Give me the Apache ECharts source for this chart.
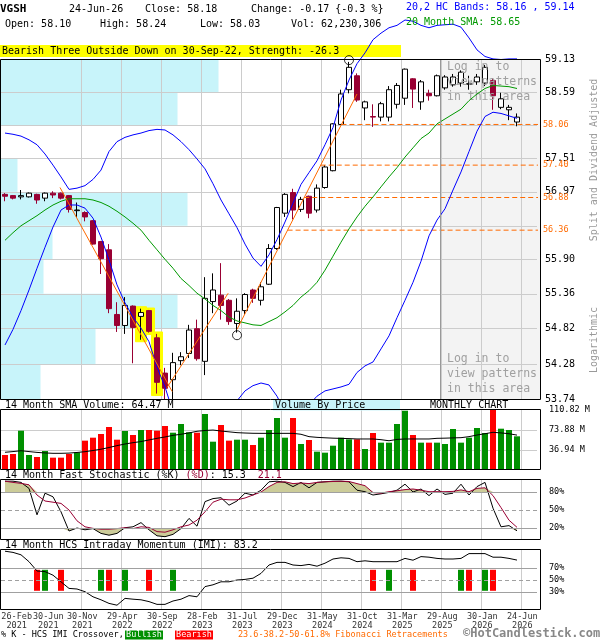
<!DOCTYPE html>
<html><head><meta charset="utf-8">
<script src="https://cdn.jsdelivr.net/npm/echarts@6/dist/echarts.min.js"></script>
<style>html,body{margin:0;padding:0;background:#fff}#c{width:600px;height:640px}</style>
</head><body><div id="c"></div>
<script>
// ---------------- DATA ----------------
const ticker = 'VGSH';
const lastDate = '24-Jun-26';
const lastChange = '-0.17';
const lastChangePct = '-0.3';
const lastVolume = '62,230,306';
const volSmaLast = '64.47';

const months = ['2021-02','2021-03','2021-04','2021-05','2021-06','2021-07','2021-08','2021-09','2021-10','2021-11','2021-12',
'2022-01','2022-02','2022-03','2022-04','2022-05','2022-06','2022-07','2022-08','2022-09','2022-10','2022-11','2022-12',
'2023-01','2023-02','2023-03','2023-04','2023-05','2023-06','2023-07','2023-08','2023-09','2023-10','2023-11','2023-12',
'2024-01','2024-02','2024-03','2024-04','2024-05','2024-06','2024-07','2024-08','2024-09','2024-10','2024-11','2024-12',
'2025-01','2025-02','2025-03','2025-04','2025-05','2025-06','2025-07','2025-08','2025-09','2025-10','2025-11','2025-12',
'2026-01','2026-02','2026-03','2026-04','2026-05','2026-06'];

const open = [56.93,56.91,56.89,56.89,56.93,56.87,56.95,56.95,56.91,56.67,
56.64,56.51,56.18,56.05,55.04,54.87,55.17,55.01,55.10,54.68,
54.14,54.04,54.33,54.44,54.82,54.32,55.24,55.34,55.26,54.90,
55.10,55.42,55.26,55.51,56.07,56.63,56.96,56.69,56.90,56.68,
57.04,57.31,58.06,58.63,58.86,58.33,58.19,58.18,58.18,58.39,
58.49,58.81,58.43,58.57,58.53,58.66,58.71,58.74,58.72,58.76,
58.74,58.78,58.34,58.30,58.10];
const high = [56.95,56.92,57.00,56.96,56.94,56.96,56.98,56.96,56.92,56.80,
56.66,56.52,56.19,56.14,55.23,55.31,55.18,55.13,55.11,54.74,
54.22,54.45,54.46,54.88,54.96,55.62,55.68,55.84,55.28,55.29,
55.37,55.44,55.54,56.14,56.73,56.95,57.02,56.89,56.91,57.09,
57.40,58.08,58.63,59.09,58.90,58.45,58.39,58.43,58.69,58.74,
58.98,58.82,58.79,58.63,58.88,58.87,58.89,58.95,58.86,58.89,
59.04,58.82,58.58,58.38,58.24];
const low = [56.82,56.85,56.85,56.88,56.78,56.82,56.87,56.85,56.64,56.57,
56.50,56.13,55.67,55.06,54.77,54.74,54.29,54.65,54.76,53.83,
53.74,53.74,54.26,54.37,54.33,54.11,55.06,54.96,54.88,54.76,
55.04,55.22,55.18,55.50,56.05,56.57,56.53,56.65,56.55,56.64,
57.02,57.30,58.05,58.57,58.43,58.13,58.02,58.11,58.11,58.32,
58.38,58.33,58.30,58.45,58.52,58.63,58.68,58.68,58.63,58.71,
58.69,58.30,58.31,58.13,58.03];
const close = [56.90,56.87,56.91,56.95,56.84,56.95,56.92,56.87,56.69,56.68,
56.57,56.14,55.91,55.13,54.87,55.18,54.84,55.07,54.78,54.00,
53.91,54.30,54.39,54.80,54.36,55.29,55.42,55.18,54.93,55.09,
55.35,55.29,55.47,56.07,56.72,56.93,56.68,56.85,56.63,57.03,
57.37,58.07,58.56,59.00,58.46,58.43,58.18,58.40,58.63,58.70,
58.97,58.64,58.76,58.53,58.86,58.84,58.84,58.92,58.73,58.84,
59.00,58.53,58.48,58.34,58.18];

const sma20 = [56.20,56.32,56.43,56.51,56.59,56.68,56.76,56.82,56.86,56.86,
56.86,56.84,56.80,56.74,56.66,56.57,56.47,56.36,56.20,56.05,
55.90,55.76,55.60,55.49,55.37,55.28,55.18,55.10,55.00,54.94,
54.91,54.88,54.87,54.93,54.99,55.08,55.18,55.31,55.41,55.54,
55.73,55.95,56.17,56.38,56.57,56.74,56.89,57.05,57.21,57.36,
57.53,57.68,57.83,57.92,58.07,58.15,58.23,58.31,58.45,58.56,
58.65,58.70,58.69,58.68,58.65];
const bbUpper = [57.92,57.90,57.87,57.81,57.73,57.58,57.40,57.21,57.01,57.03,
57.07,57.17,57.32,57.62,57.78,57.85,57.89,57.92,57.96,57.98,
57.97,57.89,57.78,57.65,57.50,57.34,57.10,56.84,56.62,56.40,
56.14,55.92,55.79,55.97,56.21,56.49,56.79,57.09,57.28,57.47,
57.73,58.01,58.46,58.79,59.06,59.24,59.46,59.57,59.66,59.70,
59.79,59.77,59.70,59.66,59.70,59.71,59.72,59.67,59.49,59.29,
59.18,59.14,59.13,59.14,59.14];
const bbLower = [54.57,54.81,55.10,55.42,55.76,56.09,56.41,56.68,56.76,56.76,
56.71,56.55,56.25,55.89,55.50,55.22,55.00,54.83,54.62,54.23,
53.93,53.55,53.23,53.07,53.00,53.07,53.31,53.47,53.63,53.72,
53.87,53.95,53.99,53.96,53.79,53.55,53.47,53.55,53.66,53.79,
53.87,53.90,53.93,53.97,54.15,54.25,54.31,54.51,54.71,54.99,
55.26,55.54,55.87,56.27,56.52,56.70,57.00,57.29,57.62,57.95,
58.19,58.26,58.24,58.20,58.16];

const volume = [27.7,29.6,72.6,27.7,24.0,35.1,22.8,22.8,29.6,32.6,
54.2,59.7,66.5,79.4,56.0,72.0,64.6,73.9,73.9,72.6,
81.3,68.9,85.0,69.6,68.9,103.4,52.3,83.1,54.2,56.0,
56.0,46.2,59.7,73.9,96.0,59.7,96.0,48.0,55.4,33.9,
32.0,44.9,59.7,56.6,56.6,38.8,68.3,50.5,50.5,85.0,
109.5,64.6,50.5,50.5,50.5,48.0,75.7,50.5,59.7,77.6,
68.3,110.8,76.3,73.9,62.2];
const volSma = [32.7,34.0,35.6,34.0,32.5,31.5,30.8,30.8,31.2,32.4,
33.8,36.0,38.4,41.5,45.0,48.0,50.5,52.5,55.5,58.5,
61.0,64.0,66.0,68.5,71.5,73.0,73.8,72.0,70.5,69.0,
68.3,67.8,67.7,67.7,67.7,67.7,67.7,66.0,61.6,60.3,
59.5,58.8,58.4,58.0,57.3,57.3,57.3,56.0,54.0,56.5,
57.3,57.3,57.3,57.3,58.5,58.8,59.3,59.7,61.6,64.6,
67.0,69.6,68.5,67.0,64.47];

const stochK = [98,98,96,86,42,78,72,47,15,20,
17,19,11,8,11,20.5,22,29,17,7,
5.5,9.4,19,36,23,64,69,70.5,58,65,
78,75,83,97,98,96,89,96,87,96,
97,98,98,97,83,80.5,75,77,79.4,83,
93,80,85,74,85,76,78,93,75,89,
96,53,22,24,15.3];
const stochD = [98,96,94.4,92,75,65,63,61,50,32,
22,19.4,18,18,19,20.5,19,22,21,14,
13,17,22,25,33,47,63,68,67,67,
70,75,80,89,96,97,94,95,94,96,
97,97.5,98,97.5,94,90.5,79,78,80.5,82,
84,85,83,80.5,80.5,80.5,81,83.5,80.5,86,
87,74,54,33,21.1];
const imi = [98,96,92,80.5,65,64,58,47,36,35,
30.5,22,17,11,8,19.4,18,17,14,9.4,
9.4,15,18,24,22,39,42,47,47,50,
51,53,61,75,79.4,79.4,75,74,76,73,
78,85,87,86,80.5,82,80.5,80.5,80.5,80.5,
86,83,89,88,86,85,85,86,94,94,
94,88,88,86,83.2];
const imiBullish = [5,12,15,21,48,57,60];
const imiBearish = [4,7,13,18,46,51,58,61];
const signalBand = [32, 67];

const patternIdx = [17,18,19];
const pivots = [[29,54.72],[43,59.12]];
const trendSegs = [
  [[6.875,57.04],[20.9,53.86]],
  [[20.25,53.92],[27.9,55.37]],
  [[29,54.81],[44,58.56]]
];
const fibLevels = [58.06,57.40,56.88,56.36];
const fibLabels = ['58.06','57.40','56.88','56.36'];
const priceTicks = [53.74,54.28,54.82,55.36,55.90,56.43,56.97,57.51,58.05,58.59,59.13];
const priceTickLabels = ['53.74','54.28','54.82','55.36','55.90','','56.97','57.51','','58.59','59.13'];
const vbpVolume = [40,95,177,43,52,187,17,0,177,218]; // relative, bottom band to top band
const volMax = 110.82, volStep = 36.94;
const stochLevels = [80,50,20];
const imiLevels = [70,50,30];
const xTickIdx = [0,4,9,14,19,24,29,34,39,44,49,54,59,64];
const xTickText = ['26-Feb\n2021','30-Jun\n2021','30-Nov\n2021','29-Apr\n2022','30-Sep\n2022','28-Feb\n2023','31-Jul\n2023',
'29-Dec\n2023','31-May\n2024','31-Oct\n2024','31-Mar\n2025','29-Aug\n2025','30-Jan\n2026','24-Jun\n2026'];

// ---------------- BUILD ----------------
const L = Math.log;
const N = months.length;
const cats = months.concat([' ', '  ']);
const NC = cats.length;
const GL = 1, GW = NC * 8;
const mono = 'DejaVu Sans Mono';
const RED = '#990033', UPG = '#009000', VRED = '#ff0000', ORANGE = '#ff6a00';
const yMin = L(priceTicks[0]), yMax = L(priceTicks[priceTicks.length - 1]);
const xEnd = (540 - GL) / 8 - 0.5;
// label placement (layout): labels sit just right of the month, first two nudged to avoid overlap
const labelShift = 0.66;
const labelNudge = {0: 0.8, 4: 0.75};
const xLabelVals = xTickIdx.map((i) => i + labelShift + (labelNudge[i] || 0));

function catAxis(gi) {
  return {
    type: 'category', gridIndex: gi, data: cats, boundaryGap: true,
    axisLine: {show: false}, axisTick: {show: false},
    splitLine: {show: true, interval: (i) => i > 0 && i % 5 === 0, showMinLine: false, showMaxLine: false,
      lineStyle: {color: '#cccccc', width: 1}},
    axisLabel: {show: false}
  };
}

const gridBase = {containLabel: false, outerBoundsMode: 'none'};
const grids = [
  Object.assign({left: GL, top: 59.5, width: GW, height: 340}, gridBase),
  Object.assign({left: GL, top: 410, width: GW, height: 60}, gridBase),
  Object.assign({left: GL, top: 480, width: GW, height: 60}, gridBase),
  Object.assign({left: GL, top: 550, width: GW, height: 60}, gridBase),
  Object.assign({left: 0.5, top: 59.5, width: 540, height: 340}, gridBase)
];
const xAxes = [
  catAxis(0),
  {type: 'value', gridIndex: 0, min: -0.5, max: NC - 0.5, show: false},
  catAxis(1), catAxis(2), catAxis(3),
  {type: 'value', gridIndex: 4, min: 0, max: 540, show: false},
  {type: 'value', gridIndex: 3, position: 'bottom', min: -0.5, max: NC - 0.5,
   axisLine: {show: false}, axisTick: {show: false}, splitLine: {show: false},
   axisLabel: {show: true, customValues: xLabelVals, hideOverlap: false, margin: 3,
     fontFamily: mono, fontSize: 8.5, color: '#333', lineHeight: 8.5,
     formatter: (v) => { let b = 0, bd = 1e9; xLabelVals.forEach((t, k) => { const d = Math.abs(t - v); if (d < bd) { bd = d; b = k; } }); return xTickText[b]; }}}
];
const priceTickVals = priceTicks.map(L);
const yAxes = [
  {type: 'value', gridIndex: 0, position: 'right', min: yMin, max: yMax,
   axisLine: {show: false}, axisTick: {show: false, customValues: priceTickVals},
   splitLine: {show: true, showMinLine: false, showMaxLine: false, lineStyle: {color: '#cccccc'}},
   axisLabel: {show: true, customValues: priceTickVals, margin: 8, padding: [0, 0, 5, 0],
     fontFamily: mono, fontSize: 10, color: '#000',
     formatter: (v) => { let b = 0, bd = 1e9; priceTickVals.forEach((t, k) => { const d = Math.abs(t - v); if (d < bd) { bd = d; b = k; } }); return priceTickLabels[b]; }}},
  {type: 'value', gridIndex: 1, position: 'right', min: 0, max: volMax, interval: volStep,
   axisLine: {show: false}, axisTick: {show: false},
   splitLine: {show: true, showMinLine: false, showMaxLine: false, lineStyle: {color: '#cccccc'}},
   axisLabel: {show: true, showMinLabel: false, margin: 12, fontFamily: mono, fontSize: 8.5, color: '#000',
     formatter: (v) => v <= 0 ? '' : v.toFixed(2) + ' M'}},
  {type: 'value', gridIndex: 2, min: 0, max: 100, show: false},
  {type: 'value', gridIndex: 3, min: 0, max: 100, show: false},
  {type: 'value', gridIndex: 4, min: yMin, max: yMax, show: false}
];

const series = [];
// volume by price
series.push({
  type: 'custom', xAxisIndex: 5, yAxisIndex: 4, z: -1, silent: true,
  data: vbpVolume.map((v, k) => [v, L(priceTicks[k]), L(priceTicks[k + 1])]),
  encode: {x: 0, y: [1, 2]},
  renderItem: (params, api) => {
    const a = api.coord([0, api.value(1)]);
    const b = api.coord([api.value(0), api.value(2)]);
    return {type: 'rect', shape: {x: a[0], y: b[1], width: b[0] - a[0], height: a[1] - b[1]}, style: {fill: '#c8f4fa'}};
  }
});
// fib lines
fibLevels.forEach((lv, k) => {
  const s = trendSegs[2];
  const t = (L(lv) - L(s[0][1])) / (L(s[1][1]) - L(s[0][1]));
  const xs = s[0][0] + t * (s[1][0] - s[0][0]);
  series.push({type: 'line', xAxisIndex: 1, yAxisIndex: 0, clip: false, symbol: 'none', silent: true,
    data: [[xs, L(lv)], [xEnd, L(lv)]],
    lineStyle: {color: ORANGE, width: 1, type: [5, 3]},
    endLabel: {show: true, formatter: fibLabels[k], color: ORANGE, fontFamily: mono, fontSize: 8.5, distance: 5}});
});
// pattern highlight
series.push({type: 'candlestick', xAxisIndex: 0, yAxisIndex: 0, barWidth: 11, silent: true,
  data: open.map((o, i) => patternIdx.indexOf(i) >= 0 ? [L(low[i] - 0.03), L(high[i] + 0.03), L(low[i] - 0.03), L(high[i] + 0.03)] : '-'),
  itemStyle: {color: '#ffff00', color0: '#ffff00', borderColor: '#ffff00', borderColor0: '#ffff00'}});
// bands & sma
series.push({type: 'line', xAxisIndex: 0, yAxisIndex: 0, clip: false, symbol: 'none', silent: true,
  data: bbUpper.map(L), lineStyle: {color: '#0000ff', width: 1}});
series.push({type: 'line', xAxisIndex: 0, yAxisIndex: 0, clip: true, symbol: 'none', silent: true,
  data: bbLower.map(L), lineStyle: {color: '#0000ff', width: 1}});
series.push({type: 'line', xAxisIndex: 0, yAxisIndex: 0, symbol: 'none', silent: true,
  data: sma20.map(L), lineStyle: {color: '#009900', width: 1}});
// trendlines
trendSegs.forEach((sg) => {
  series.push({type: 'line', xAxisIndex: 1, yAxisIndex: 0, symbol: 'none', silent: true,
    data: sg.map((p) => [p[0], L(p[1])]), lineStyle: {color: ORANGE, width: 1}});
});
// candles
series.push({type: 'candlestick', xAxisIndex: 0, yAxisIndex: 0, barWidth: 6,
  data: open.map((o, i) => [L(o), L(close[i]), L(low[i]), L(high[i])]),
  itemStyle: {color: '#ffffff', color0: RED, borderColor: '#000000', borderColor0: RED, borderWidth: 1}});
// pivots
series.push({type: 'scatter', xAxisIndex: 1, yAxisIndex: 0, clip: false, symbol: 'circle', symbolSize: 9, silent: true,
  data: pivots.map((p) => [p[0], L(p[1])]),
  itemStyle: {color: 'rgba(0,0,0,0)', borderColor: '#000', borderWidth: 1}});

// volume
series.push({type: 'bar', xAxisIndex: 2, yAxisIndex: 1, barWidth: 6, silent: true,
  data: volume.map((v, i) => ({value: v, itemStyle: {color: close[i] >= open[i] ? UPG : VRED}}))});
series.push({type: 'line', xAxisIndex: 2, yAxisIndex: 1, symbol: 'none', silent: true,
  data: volSma, lineStyle: {color: '#000', width: 1}});

// stochastic fills
series.push({type: 'line', xAxisIndex: 3, yAxisIndex: 2, stack: 'top', symbol: 'none', silent: true,
  data: stochD.map(() => 80), lineStyle: {width: 0, opacity: 0}});
series.push({type: 'line', xAxisIndex: 3, yAxisIndex: 2, stack: 'top', symbol: 'none', silent: true,
  data: stochD.map((d) => Math.max(d, 80) - 80), lineStyle: {width: 0, opacity: 0}, areaStyle: {color: '#cccc99', opacity: 1}});
series.push({type: 'line', xAxisIndex: 3, yAxisIndex: 2, stack: 'bot', symbol: 'none', silent: true,
  data: stochK.map((k) => Math.min(k, 20)), lineStyle: {width: 0, opacity: 0}});
series.push({type: 'line', xAxisIndex: 3, yAxisIndex: 2, stack: 'bot', symbol: 'none', silent: true,
  data: stochK.map((k) => 20 - Math.min(k, 20)), lineStyle: {width: 0, opacity: 0}, areaStyle: {color: '#cccc99', opacity: 1}});
function levelMarks(levels) {
  return {silent: true, symbol: 'none',
    label: {position: 'end', distance: 12, fontFamily: mono, fontSize: 8.5, color: '#000'},
    data: levels.map((v) => ({yAxis: v, label: {formatter: v + '%'},
      lineStyle: {color: '#a0a0a0', width: 1, type: v === 50 ? [4, 3] : 'solid'}}))};
}
series.push({type: 'line', xAxisIndex: 3, yAxisIndex: 2, symbol: 'none', silent: true,
  data: stochK, lineStyle: {color: '#000', width: 1}, markLine: levelMarks(stochLevels)});
series.push({type: 'line', xAxisIndex: 3, yAxisIndex: 2, symbol: 'none', silent: true,
  data: stochD, lineStyle: {color: RED, width: 1}});

// IMI
const sigBase = open.map((o, i) => (imiBullish.indexOf(i) >= 0 || imiBearish.indexOf(i) >= 0) ? signalBand[0] : null);
const sigBar = open.map((o, i) => imiBullish.indexOf(i) >= 0 ? {value: signalBand[1] - signalBand[0], itemStyle: {color: UPG}}
  : (imiBearish.indexOf(i) >= 0 ? {value: signalBand[1] - signalBand[0], itemStyle: {color: VRED}} : null));
series.push({type: 'bar', xAxisIndex: 4, yAxisIndex: 3, stack: 'sig', barWidth: 6, silent: true,
  data: sigBase, itemStyle: {color: 'rgba(0,0,0,0)'}});
series.push({type: 'bar', xAxisIndex: 4, yAxisIndex: 3, stack: 'sig', barWidth: 6, silent: true, data: sigBar});
series.push({type: 'line', xAxisIndex: 4, yAxisIndex: 3, symbol: 'none', silent: true,
  data: imi, lineStyle: {color: '#000', width: 1}, markLine: levelMarks(imiLevels)});

// ---------------- GRAPHICS ----------------
const font = (sz, bold) => (bold ? 'bold ' : '') + sz + 'px "' + mono + '"';
function txt(t, x, y, o) {
  o = o || {};
  return {type: 'text', x: x, y: y, z: o.z || 20, rotation: o.rot || 0, silent: true,
    style: {text: t, x: 0, y: 0, font: font(o.size || 10, o.bold), fill: o.fill || '#000',
      align: o.align || 'left', textAlign: o.align || 'left', verticalAlign: 'middle', textVerticalAlign: 'middle'}};
}
function rect(x, y, w, h, fill, stroke, z) {
  return {type: 'rect', z: z, silent: true, shape: {x: x, y: y, width: w, height: h},
    style: {fill: fill || 'none', stroke: stroke || 'none', lineWidth: 1}};
}
const n1 = N - 1;
const graphics = [
  rect(440.5, 59.5, 100, 340, '#f3f3f3', null, -10),
  {type: 'line', z: 6, silent: true, shape: {x1: 440.5, y1: 59.5, x2: 440.5, y2: 399.5}, style: {stroke: '#999999', lineWidth: 1}},
  rect(0.5, 59.5, 540, 340, null, '#000', 30),
  rect(0.5, 409.5, 540, 60, null, '#000', 30),
  rect(0.5, 479.5, 540, 60, null, '#000', 30),
  rect(0.5, 549.5, 540, 60, null, '#000', 30),
  txt(ticker, 0, 9, {bold: true, size: 11}),
  txt(lastDate, 69, 9),
  txt('Close: ' + close[n1].toFixed(2), 145, 9),
  txt('Change: ' + lastChange + ' {' + lastChangePct + ' %}', 251, 9),
  txt('20,2 HC Bands: ' + bbLower[n1].toFixed(2) + ' , ' + bbUpper[n1].toFixed(2), 406, 7, {fill: '#0000ff'}),
  txt('Open: ' + open[n1].toFixed(2), 5, 24),
  txt('High: ' + high[n1].toFixed(2), 100, 24),
  txt('Low: ' + low[n1].toFixed(2), 200, 24),
  txt('Vol: ' + lastVolume, 291, 24),
  txt('20 Month SMA: ' + sma20[n1].toFixed(2), 406, 22, {fill: '#009900'}),
  rect(0, 45, 401, 12, '#ffff00', null, 1),
  txt('Bearish Three Outside Down on 30-Sep-22, Strength: -26.3', 2, 51, {z: 2}),
  txt('Log in to', 447, 67, {size: 11.5, fill: '#a0a0a0', z: 3}),
  txt('view patterns', 447, 82, {size: 11.5, fill: '#a0a0a0', z: 3}),
  txt('in this area', 447, 97, {size: 11.5, fill: '#a0a0a0', z: 3}),
  txt('Log in to', 447, 359, {size: 11.5, fill: '#a0a0a0', z: 3}),
  txt('view patterns', 447, 374, {size: 11.5, fill: '#a0a0a0', z: 3}),
  txt('in this area', 447, 389, {size: 11.5, fill: '#a0a0a0', z: 3}),
  txt('Split and Dividend Adjusted', 594, 160, {fill: '#999999', rot: Math.PI / 2, align: 'center'}),
  txt('Logarithmic', 594, 340, {fill: '#999999', rot: Math.PI / 2, align: 'center'}),
  txt('14 Month SMA Volume: ' + volSmaLast + ' M', 5, 405.5),
  rect(273, 400, 127, 10.5, '#c8f4fa', null, 1),
  txt('Volume By Price', 275, 405.5, {z: 2}),
  txt('MONTHLY CHART', 430, 405.5),
  txt('14 Month Fast Stochastic (%K) ', 5, 475.5),
  txt('(%D)', 185.6, 475.5, {fill: RED}),
  txt(': ' + stochK[n1].toFixed(1), 209.7, 475.5),
  txt(stochD[n1].toFixed(1), 257.8, 475.5, {fill: RED}),
  txt('14 Month HCS Intraday Momentum (IMI): ' + imi[n1].toFixed(1), 5, 545.5),
  txt('% K - HCS IMI Crossover,', 1, 635, {size: 8.5}),
  rect(125, 630.5, 38, 9, UPG, null, 1),
  txt('Bullish', 144, 635, {size: 8.5, fill: '#fff', align: 'center', z: 2}),
  rect(175, 630.5, 38, 9, VRED, null, 1),
  txt('Bearish', 194, 635, {size: 8.5, fill: '#fff', align: 'center', z: 2}),
  txt('23.6-38.2-50-61.8% Fibonacci Retracements', 238, 635, {size: 8.5, fill: ORANGE}),
  txt('\u00A9HotCandlestick.com', 463, 634, {size: 12, bold: true, fill: '#888888'})
];

const chart = echarts.init(document.getElementById('c'), null, {renderer: 'canvas'});
chart.setOption({
  animation: false,
  backgroundColor: '#ffffff',
  grid: grids, xAxis: xAxes, yAxis: yAxes, series: series,
  graphic: {elements: graphics}
});
</script></body></html>
